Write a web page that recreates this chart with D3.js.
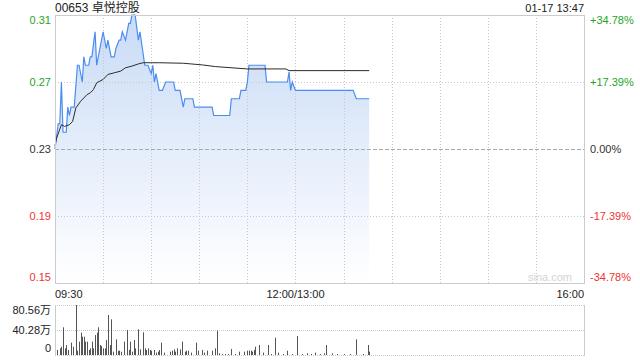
<!DOCTYPE html>
<html>
<head>
<meta charset="utf-8">
<script src="https://cdn.jsdelivr.net/npm/d3@7"></script>
<style>
  html, body { margin: 0; padding: 0; background: #fff; }
  svg { display: block; font-family: "Liberation Sans", Arial, "Noto Sans CJK SC", sans-serif; }
</style>
</head>
<body>
<svg id="chart" width="640" height="360"></svg>
<script>
// ---- data ----
const title = "00653 卓悦控股";
const stamp = "01-17 13:47";
const prevClose = 0.23;
const priceTicks = [0.31, 0.27, 0.23, 0.19, 0.15];
const pctTicks = ["+34.78%", "+17.39%", "0.00%", "-17.39%", "-34.78%"];
const timeLabels = ["09:30", "12:00/13:00", "16:00"];
const volTickLabels = ["80.56万", "40.28万", "0"];
const volTicks = [80.56, 40.28, 0];
// minute index since 09:30 (lunch removed), price
const priceMinutes = [0,2,3,4,5,7,8,9,10,12,14,15,17,18,19,21,22,23,25,26,28,30,32,33,35,37,38,40,41,42,44,46,47,48,50,52,53,56,58,60,61,62,63,65,67,69,74,75,78,80,81,86,87,98,99,109,110,115,116,119,120,121,131,132,145,146,147,148,150,186,188,196];
const priceValues = [0.23,0.245,0.245,0.27,0.24,0.24,0.255,0.25,0.255,0.255,0.28,0.28,0.27,0.285,0.28,0.28,0.285,0.285,0.30,0.28,0.29,0.30,0.29,0.295,0.285,0.285,0.29,0.295,0.295,0.30,0.295,0.305,0.305,0.31,0.31,0.295,0.30,0.28,0.28,0.275,0.28,0.27,0.275,0.265,0.265,0.27,0.27,0.265,0.265,0.255,0.26,0.26,0.255,0.255,0.25,0.25,0.26,0.26,0.265,0.265,0.27,0.28,0.28,0.27,0.27,0.276,0.265,0.27,0.265,0.265,0.26,0.26];
const avgMinutes = [0,1,4,6,9,11,13,16,18,20,22,24,26,28,30,33,37,41,44,48,52,55,65,80,92,100,120,144,146,196];
const avgValues = [0.232,0.2365,0.2445,0.2435,0.2445,0.2465,0.2545,0.2585,0.2605,0.2625,0.2635,0.2655,0.2695,0.2705,0.2715,0.2745,0.2755,0.2765,0.2785,0.2795,0.2808,0.2815,0.2815,0.2812,0.2802,0.2792,0.2778,0.2778,0.2768,0.2768];
// volume bars (万)
const volMinutes = [1,3,4,5,6,7,8,10,11,13,14,15,16,17,18,19,20,21,22,23,24,25,26,27,28,29,30,31,32,33,34,35,36,38,39,40,41,43,45,46,47,48,49,50,52,53,55,56,57,58,59,60,62,63,64,65,66,68,72,73,74,75,76,78,79,81,82,83,85,88,89,92,93,95,98,100,101,102,104,106,108,110,112,115,118,120,121,122,123,124,125,127,130,133,135,137,139,142,145,148,151,154,157,160,162,165,168,169,173,176,180,184,188,192,195,196];
const volValues = [8.1,10.7,13.4,44.6,10.7,16.1,8.1,19.9,13.4,80.56,7.0,21.5,36.0,29.5,29.5,21.5,21.5,8.1,10.7,21.5,10.7,32.2,36.0,44.6,16.1,14.5,10.7,10.7,24.2,64.4,16.1,57.5,5.4,25.2,7.0,7.0,5.4,21.5,40.3,8.1,21.5,5.4,24.2,10.7,41.3,9.1,36.5,10.7,8.1,10.7,8.1,7.0,8.1,3.8,5.4,8.1,19.9,3.8,5.4,7.0,9.1,5.4,10.7,9.1,21.5,5.4,7.0,7.0,3.8,19.9,7.0,8.1,3.8,7.0,7.0,10.7,39.2,2.7,1.6,1.6,1.6,9.7,1.6,5.4,5.4,7.0,7.0,7.0,5.4,8.1,13.4,16.1,3.8,16.1,1.6,27.9,3.8,1.6,7.0,1.6,30.6,1.6,2.7,1.6,3.8,1.6,2.7,16.1,2.7,1.6,1.6,1.6,25.2,1.6,16.1,5.4];

// ---- layout ----
const svg = d3.select("#chart");
const L = 55, R = 584, T = 15, B = 283;
const VT = 305, VB = 355;
const totalMin = 330;

const x = d3.scaleLinear().domain([0, totalMin]).range([L, R]);
const y = d3.scaleLinear().domain([0.15, 0.31]).range([B, T]);
const yv = d3.scaleLinear().domain([0, 80.56]).range([VB, VT]);

const green = "#1fa51f", red = "#f03333", dark = "#333", grid = "#c8c8c8";

// gradient
const defs = svg.append("defs");
const grad = defs.append("linearGradient").attr("id", "fillGrad")
  .attr("gradientUnits", "userSpaceOnUse")
  .attr("x1", 0).attr("y1", T).attr("x2", 0).attr("y2", B);
grad.append("stop").attr("offset", "0%").attr("stop-color", "#c9dbf6");
grad.append("stop").attr("offset", "100%").attr("stop-color", "#ffffff");

// area
const pts = priceMinutes.map((m, i) => [m, priceValues[i]]);
const area = d3.area().x(d => x(d[0])).y0(B).y1(d => y(d[1]));
svg.append("path").datum(pts).attr("d", area).attr("fill", "url(#fillGrad)");

// vertical grid (every 30 min)
const vMarks = d3.range(30, totalMin, 30);
svg.append("g").selectAll("line").data(vMarks).join("line")
  .attr("x1", d => Math.round(x(d)) + 0.5).attr("x2", d => Math.round(x(d)) + 0.5)
  .attr("y1", T).attr("y2", B)
  .attr("stroke", grid).attr("stroke-dasharray", "1,2").attr("stroke-width", 1);

// horizontal grid
svg.append("g").selectAll("line").data(priceTicks.filter(d => d !== 0.31 && d !== 0.15)).join("line")
  .attr("x1", L).attr("x2", R)
  .attr("y1", d => Math.round(y(d)) + 0.5).attr("y2", d => Math.round(y(d)) + 0.5)
  .attr("stroke", d => d === prevClose ? "#aaa" : grid)
  .attr("stroke-dasharray", d => d === prevClose ? "4,2" : "1,2");

// lines
const line = d3.line().x(d => x(d[0])).y(d => y(d[1]));
svg.append("path").datum(pts).attr("d", line)
  .attr("fill", "none").attr("stroke", "#4a8df0").attr("stroke-width", 1.2);
const avgPts = avgMinutes.map((m, i) => [m, avgValues[i]]);
svg.append("path").datum(avgPts).attr("d", line)
  .attr("fill", "none").attr("stroke", "#2b2b2b").attr("stroke-width", 1);

// border
svg.append("rect").attr("x", L + 0.5).attr("y", T + 0.5)
  .attr("width", R - L).attr("height", B - T)
  .attr("fill", "none").attr("stroke", "#ccc");

// watermark
svg.append("text").attr("x", 572).attr("y", 281).attr("text-anchor", "end")
  .attr("font-size", 11).attr("fill", "#d4d4d4").text("sina.com");

// left price labels
svg.append("g").selectAll("text").data(priceTicks).join("text")
  .attr("x", L - 4).attr("text-anchor", "end")
  .attr("y", (d, i) => i === 0 ? y(d) + 9 : (i === priceTicks.length - 1 ? y(d) - 2 : y(d) + 4))
  .attr("font-size", 11)
  .attr("fill", d => d > prevClose ? green : (d < prevClose ? red : dark))
  .text(d => d.toFixed(2));

// right pct labels
svg.append("g").selectAll("text").data(pctTicks).join("text")
  .attr("x", R + 6).attr("text-anchor", "start")
  .attr("y", (d, i) => i === 0 ? y(priceTicks[i]) + 9 : (i === pctTicks.length - 1 ? y(priceTicks[i]) - 2 : y(priceTicks[i]) + 4))
  .attr("font-size", 11)
  .attr("fill", (d, i) => priceTicks[i] > prevClose ? green : (priceTicks[i] < prevClose ? red : dark))
  .text(d => d);

// title & stamp
svg.append("text").attr("x", L).attr("y", 12).attr("font-size", 12).attr("fill", "#222").text(title);
svg.append("text").attr("x", R).attr("y", 12).attr("text-anchor", "end").attr("font-size", 11).attr("fill", "#222").text(stamp);

// time labels
const timePos = [0, 150, 330];
const anchors = ["start", "middle", "end"];
svg.append("g").selectAll("text").data(timeLabels).join("text")
  .attr("x", (d, i) => x(timePos[i])).attr("y", 298)
  .attr("text-anchor", (d, i) => anchors[i])
  .attr("font-size", 11).attr("fill", "#222").text(d => d);

// volume panel
svg.append("g").selectAll("line").data(volTicks).join("line")
  .attr("x1", L).attr("x2", R)
  .attr("y1", d => Math.round(yv(d)) + 0.5).attr("y2", d => Math.round(yv(d)) + 0.5)
  .attr("stroke", "#c8c8c8").attr("stroke-dasharray", "1,1");
svg.append("line").attr("x1", L + 0.5).attr("x2", L + 0.5).attr("y1", VT).attr("y2", VB + 1).attr("stroke", "#ccc");
svg.append("line").attr("x1", R + 0.5).attr("x2", R + 0.5).attr("y1", VT).attr("y2", VB + 1).attr("stroke", "#ccc");

svg.append("g").selectAll("rect").data(volMinutes.map((m, i) => [m, volValues[i]])).join("rect")
  .attr("x", d => Math.round(x(d[0])))
  .attr("width", 1)
  .attr("y", d => yv(d[1]))
  .attr("height", d => VB - yv(d[1]))
  .attr("fill", "#555");

svg.append("g").selectAll("text").data(volTickLabels).join("text")
  .attr("x", L - 4).attr("text-anchor", "end")
  .attr("y", (d, i) => i === 0 ? yv(volTicks[i]) + 9 : (i === 2 ? yv(volTicks[i]) - 3 : yv(volTicks[i]) + 4))
  .attr("font-size", 11).attr("fill", "#222").text(d => d);
</script>
</body>
</html>
